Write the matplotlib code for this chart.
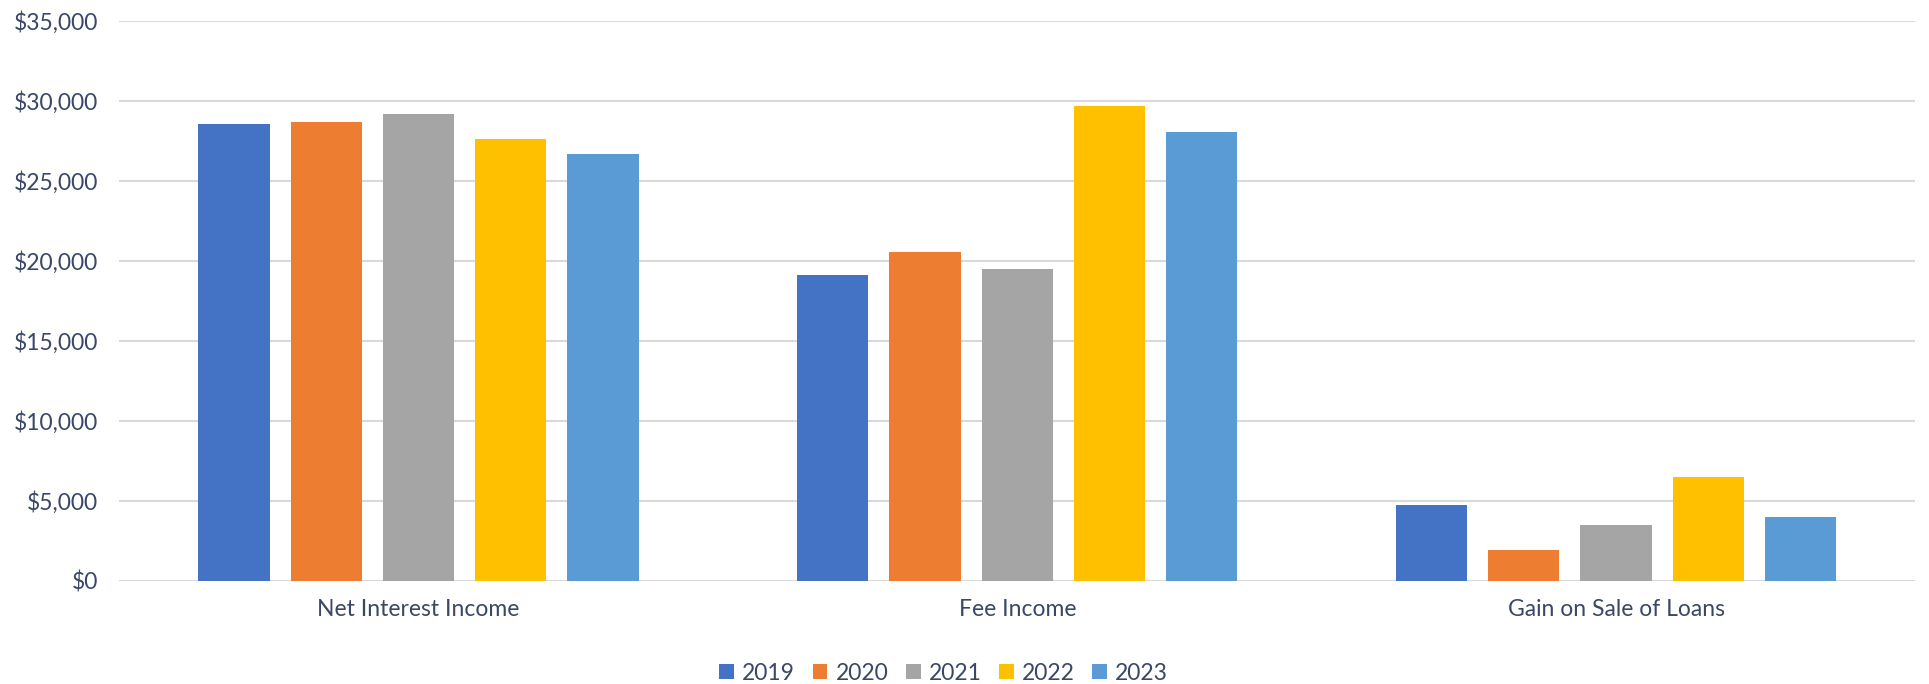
import matplotlib.pyplot as plt
import numpy as np
from matplotlib.ticker import FuncFormatter

categories = ["Net Interest Income", "Fee Income", "Gain on Sale of Loans"]
years = ["2019", "2020", "2021", "2022", "2023"]
v2019 = [28580, 19090, 4760]
v2020 = [28670, 20540, 1940]
v2021 = [29210, 19500, 3470]
v2022 = [27630, 29650, 6470]
v2023 = [26710, 28040, 3970]
colors = ["#4472C4", "#ED7D31", "#A5A5A5", "#FFC000", "#5B9BD5"]

series = [v2019, v2020, v2021, v2022, v2023]
text_color = "#3A4766"

plt.rcParams['font.family'] = ['Lato', 'DejaVu Sans']

fig = plt.figure(figsize=(19.29, 6.84), dpi=100)
ax = fig.add_axes([0.0617, 0.151, 0.9313, 0.8184])

x = np.arange(len(categories))
pitch = 0.154
width = 0.119
for i, (vals, yr) in enumerate(zip(series, years)):
    ax.bar(x + (i - 2) * pitch, vals, width, color=colors[i], label=yr, zorder=3)

ax.set_xlim(-0.5, len(categories) - 0.5)
ax.set_ylim(0, 35000)
ax.set_yticks(np.arange(0, 35001, 5000))
ax.yaxis.set_major_formatter(FuncFormatter(lambda v, p: "${:,.0f}".format(v)))
ax.grid(axis='y', color='#D9D9D9', linewidth=1.5, zorder=0)
for s in ax.spines.values():
    s.set_visible(False)
ax.tick_params(axis='both', length=0, labelsize=16.5, colors=text_color)
ax.tick_params(axis='x', pad=13)
ax.tick_params(axis='y', pad=15)
ax.set_xticks(x)
ax.set_xticklabels(categories)

ax.legend(loc='center', bbox_to_anchor=(0.459, -0.165), ncol=5, frameon=False,
          fontsize=16.5, labelcolor=text_color, handlelength=0.65, handleheight=0.65,
          handletextpad=0.35, columnspacing=0.76)

fig.savefig("out.png", dpi=100)
